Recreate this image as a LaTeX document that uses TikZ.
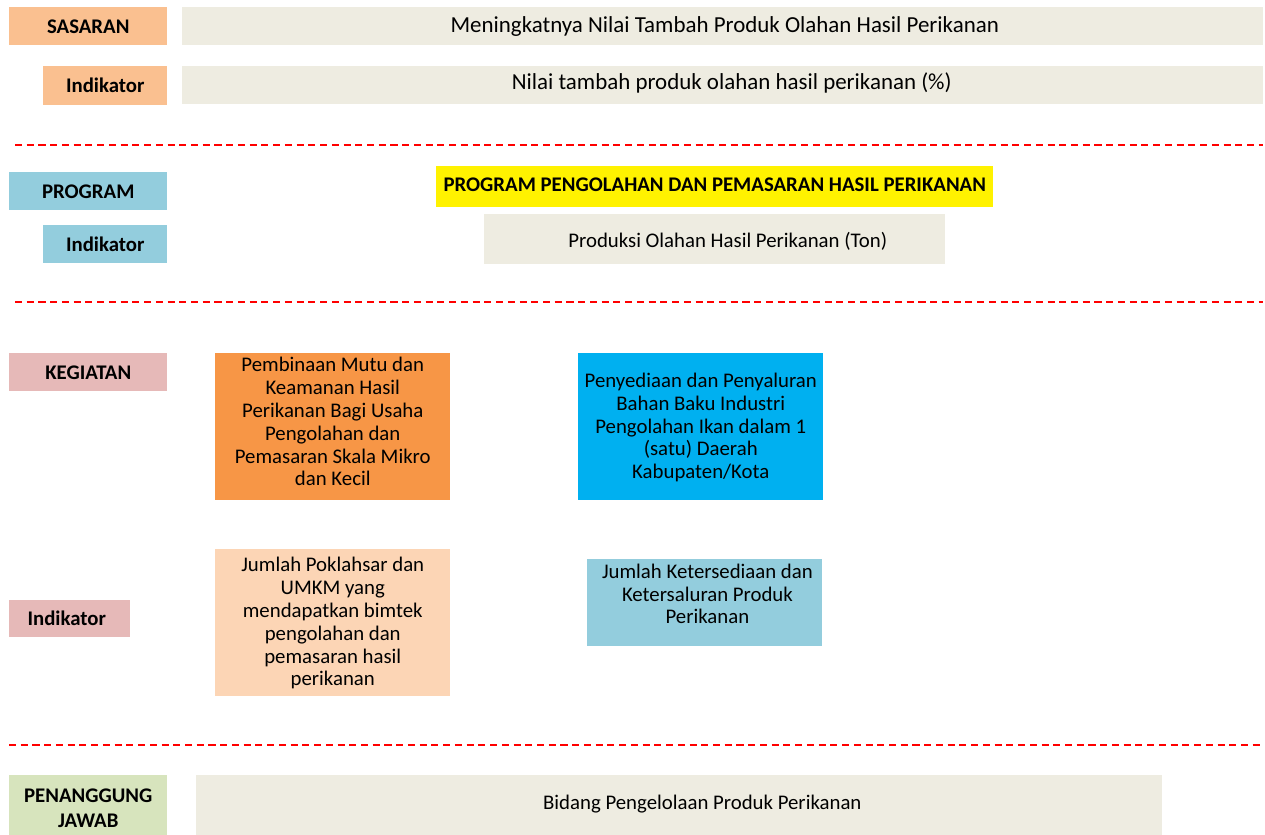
\documentclass[tikz,border=0pt]{standalone}
\usepackage{fontspec}
\setmainfont{Carlito}
\usepackage{xcolor}
\usepackage{tikz}

\definecolor{sasaranclr}{HTML}{FAC090}
\definecolor{programclr}{HTML}{93CDDD}
\definecolor{kegiatanclr}{HTML}{E6B9B8}
\definecolor{pjclr}{HTML}{D7E4BD}
\definecolor{isiclr}{HTML}{EEECE1}
\definecolor{mutuclr}{HTML}{F79646}
\definecolor{bahanclr}{HTML}{00B0F0}
\definecolor{poklclr}{HTML}{FCD5B5}

\begin{document}
\begin{tikzpicture}[x=0.75pt,y=-0.75pt,
  every node/.style={inner sep=0pt,font=\fontsize{15.6}{17.1}\selectfont},
  kotak/.style={anchor=north west,align=center},
  judul/.style={kotak,font=\fontsize{15.6}{18.8}\selectfont\bfseries},
  besar/.style={font=\fontsize{17.2}{20}\selectfont},
  geser/.style={execute at begin node={\hspace*{#1}}},
  garis/.style={red,line width=1.5pt,dash pattern=on 5.3pt off 3.5pt}]
\useasboundingbox (0,0) rectangle (1265,835);
% sasaran
\node [judul,fill=sasaranclr,minimum width=118.5pt,minimum height=28.5pt] (sasaran) at (9,7) {SASARAN};
\node [kotak,besar,fill=isiclr,minimum width=810.75pt,minimum height=28.5pt,geser=3pt] (sasaranisi) at (182,7) {Meningkatnya Nilai Tambah Produk Olahan Hasil Perikanan};
\node [judul,fill=sasaranclr,minimum width=93pt,minimum height=29.25pt] (indsasaran) at (43,66) {Indikator};
\node [kotak,besar,fill=isiclr,minimum width=810.75pt,minimum height=28.5pt,text height=17.3pt,text depth=11.2pt,geser=13.5pt] (indsasaranisi) at (182,66) {Nilai tambah produk olahan hasil perikanan (\%)};
\draw [garis] (15,145) -- (1263,145);
% program
\node [judul,fill=programclr,minimum width=118.5pt,minimum height=28.5pt] (program) at (9,172) {PROGRAM};
\node [judul,fill=yellow,minimum width=417.75pt,minimum height=30.75pt,text height=19.1pt,text depth=11.65pt] (programisi) at (436,166) {PROGRAM PENGOLAHAN DAN PEMASARAN HASIL PERIKANAN};
\node [judul,fill=programclr,minimum width=93pt,minimum height=28.5pt] (indprogram) at (43,225) {Indikator};
\node [kotak,fill=isiclr,minimum width=345.75pt,minimum height=37.5pt,text height=25.1pt,text depth=12.4pt,geser=19.5pt] (indprogramisi) at (484,214) {Produksi Olahan Hasil Perikanan (Ton)};
\draw [garis] (15,302) -- (1263,302);
% kegiatan
\node [judul,fill=kegiatanclr,minimum width=118.5pt,minimum height=28.5pt] (kegiatan) at (9,353) {KEGIATAN};
\node [kotak,fill=mutuclr,minimum width=176.25pt,minimum height=110.25pt,text height=99.4pt,text depth=10.85pt] (mutu) at (215,353) {Pembinaan Mutu dan\\Keamanan Hasil\\Perikanan Bagi Usaha\\Pengolahan dan\\Pemasaran Skala Mikro\\dan Kecil};
\node [kotak,fill=bahanclr,minimum width=183.75pt,minimum height=110.25pt,text height=94.1pt,text depth=16.15pt] (bahan) at (578,353) {Penyediaan dan Penyaluran\\Bahan Baku Industri\\Pengolahan Ikan dalam 1\\(satu) Daerah\\Kabupaten/Kota};
\node [judul,fill=kegiatanclr,minimum width=90.75pt,minimum height=27.75pt,geser=-4.5pt] (indkegiatan) at (9,600) {Indikator};
\node [kotak,fill=poklclr,minimum width=176.25pt,minimum height=110.25pt,text height=102.4pt,text depth=7.85pt] (poklahsar) at (215,549) {Jumlah Poklahsar dan\\UMKM yang\\mendapatkan bimtek\\pengolahan dan\\pemasaran hasil\\perikanan};
\node [kotak,fill=programclr,minimum width=176.25pt,minimum height=65.25pt,text height=48.4pt,text depth=16.85pt,geser=4pt] (ketersediaan) at (587,559) {Jumlah Ketersediaan dan\\Ketersaluran Produk\\Perikanan};
\draw [garis] (9,745) -- (1263,745);
% penanggung jawab
\node [judul,fill=pjclr,minimum width=118.5pt,minimum height=45pt,text height=39pt,text depth=6pt] (pj) at (9,775) {PENANGGUNG\\JAWAB};
\node [kotak,fill=isiclr,minimum width=724.5pt,minimum height=45pt,text height=25.9pt,text depth=19.1pt,geser=34.5pt] (bidang) at (196,775) {Bidang Pengelolaan Produk Perikanan};
\end{tikzpicture}
\end{document}
